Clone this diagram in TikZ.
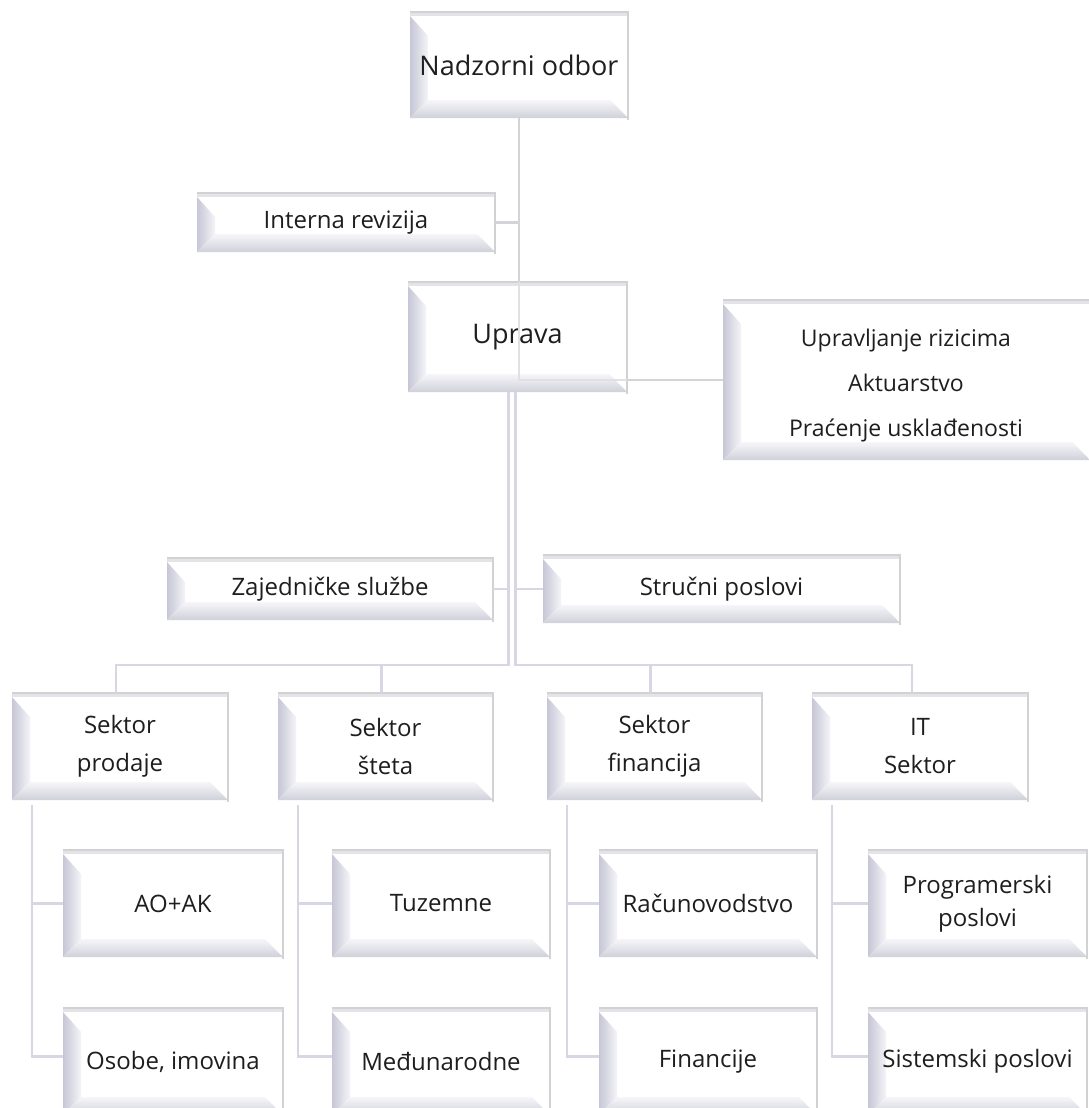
\documentclass[tikz,border=0pt]{standalone}
\usepackage{fontspec}
\setmainfont{Open Sans}
\definecolor{conc}{HTML}{D6D6E4}
\definecolor{congr}{HTML}{D4D4D8}
\definecolor{bevL}{HTML}{C6C6D6}
\definecolor{bevLi}{HTML}{F4F4F8}
\definecolor{bevBt}{HTML}{F6F6FA}
\definecolor{bevBb}{HTML}{D0D0DA}
\definecolor{bevT}{HTML}{E4E4E8}
\definecolor{brd}{HTML}{D2D2D4}
\definecolor{txtc}{HTML}{1E1E1E}
\newcommand{\bevbox}[6]{%
  \fill[white] (#2,#3) rectangle (#4,#5);
  \fill[bevT] (#2,#3) rectangle (#4,#3+4);
  \shade[left color=bevL, right color=bevLi] (#2,#3+4) -- (#2+18,#3+24) -- (#2+18,#5-18) -- (#2,#5) -- cycle;
  \shade[top color=bevBt, bottom color=bevBb] (#2,#5) -- (#2+18,#5-18) -- (#4-18,#5-18) -- (#4,#5) -- cycle;
  \draw[brd, line width=1.6pt] (#2,#3) -- (#4,#3) -- (#4,#5+2);
  \node[inner sep=0pt, outer sep=0pt, anchor=north west, minimum width={#4pt-#2pt}, minimum height={#5pt-#3pt}] (#1) at (#2,#3) {};
  \node[txt] at (#1.center) {#6};
}
\begin{document}
\begin{tikzpicture}[x=1pt,y=-1pt,
  con/.style={draw=conc, line width=2.4pt},
  cong/.style={draw=congr, line width=2.4pt},
  txt/.style={text=txtc, align=center, font=\fontsize{24}{33}\selectfont, inner sep=0pt},
]
\path[use as bounding box] (0,0) rectangle (1089,1108);
\clip (0,0) rectangle (1089,1108);

% boxes
\bevbox{N}{410}{12}{628}{118}{\fontsize{27}{33}\selectfont Nadzorni odbor}
\bevbox{I}{197}{193}{495}{252}{Interna revizija}
\bevbox{U}{408}{282}{627}{392}{\fontsize{27}{33}\selectfont Uprava}
\bevbox{R}{723}{300}{1090}{460}{}
\node[txt, font=\fontsize{23}{45}\selectfont] at (906,386) {Upravljanje rizicima\\Aktuarstvo\\Praćenje usklađenosti};
\bevbox{Z}{167}{558}{493}{620}{Zajedničke službe}
\bevbox{St}{543}{555}{900}{623}{Stručni poslovi}
\bevbox{S1}{12}{693}{228}{800}{Sektor\\[5pt]prodaje}
\bevbox{S2}{278}{693}{493}{800}{Sektor\\[5pt]šteta}
\bevbox{S3}{547}{693}{762}{800}{Sektor\\[5pt]financija}
\bevbox{S4}{812}{693}{1028}{800}{IT\\[5pt]Sektor}
\bevbox{A1}{63}{850}{283}{957}{AO+AK}
\bevbox{B1}{63}{1008}{283}{1115}{Osobe, imovina}
\bevbox{A2}{332}{850}{550}{957}{Tuzemne}
\bevbox{B2}{332}{1008}{550}{1115}{Međunarodne}
\bevbox{A3}{599}{850}{817}{957}{Računovodstvo}
\bevbox{B3}{599}{1008}{817}{1115}{Financije}
\bevbox{A4}{868}{850}{1087}{957}{Programerski\\poslovi}
\bevbox{B4}{868}{1008}{1087}{1115}{Sistemski poslovi}

% upper connectors
\draw[cong] (N.south) -- (U.north -| N.south);
\draw[cong] (I.east) -- (I.east -| N.south);
\draw[cong] (U.east |- R.west) -- (R.west);
\draw[draw=congr!70, line width=1.4pt] (U.north -| N.south) |- (U.east |- R.west);

% central connectors
\coordinate (bus) at (0,665);
\coordinate (UL) at ([xshift=-9pt]U.south);
\coordinate (UR) at ([xshift=-2pt]U.south);
\draw[con] (UL) |- ([xshift=-4pt]S1.north |- bus) -- ([xshift=-4pt]S1.north);
\draw[con] ([xshift=-4pt]S2.north) -- ([xshift=-4pt]S2.north |- bus);
\draw[con] (UR) |- ([xshift=-8pt]S4.north |- bus) -- ([xshift=-8pt]S4.north);
\draw[con] ([xshift=-4pt]S3.north) -- ([xshift=-4pt]S3.north |- bus);
\draw[con] (Z.east) -- (Z.east -| UL);
\draw[con] (St.west) -- (St.west -| UR);

% sector connectors
\foreach \s/\a/\b in {S1/A1/B1, S2/A2/B2, S3/A3/B3, S4/A4/B4} {
  \coordinate (L) at ([shift={(20,5)}]\s.south west);
  \draw[con] (L) |- ([yshift=5pt]\b.west);
  \draw[con] (\a.west) -- (\a.west -| L);
}
\end{tikzpicture}
\end{document}
